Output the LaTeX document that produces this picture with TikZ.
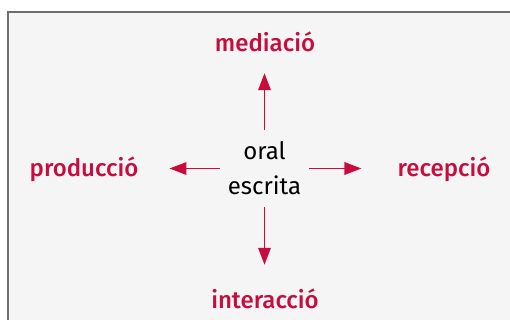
\documentclass[tikz,border=0pt]{standalone}
\usepackage{fontspec}
\setmainfont{Fira Sans}
\newfontfamily\medfont{Fira Sans Medium}
\usetikzlibrary{arrows.meta}

\definecolor{crimson}{RGB}{200,12,62}
\definecolor{paper}{RGB}{245,245,245}
\definecolor{frame}{RGB}{110,110,110}

\tikzset{
	skill/.style={text=crimson, font=\fontsize{24}{24}\selectfont\medfont, inner sep=0pt, text height=18pt, text depth=5pt, anchor=base},
	mode/.style={font=\fontsize{24}{35}\selectfont, align=center, inner sep=0pt, minimum width=89pt, minimum height=77pt},
	link/.style={draw=crimson, line width=1.8pt, -{Triangle[length=17pt,width=12.5pt]}}
}

\begin{document}
\begin{tikzpicture}[x=1pt, y=-1pt]

	\useasboundingbox[fill=white] (0, 0) rectangle (510, 320);
	\fill[paper] (8, 12) rectangle (510, 320);
	\draw[frame, line width=1.5pt] (8, 320) -- (8, 12) -- (510, 12);

	\node[mode] (c) at (264.5, 168.5) {oral\\escrita};

	\node[skill] (m) at (265, 52)     {mediació};
	\node[skill] (p) at (84, 177)     {producció};
	\node[skill] (r) at (444, 177)    {recepció};
	\node[skill] (i) at (265, 308)    {interacció};

	\path (c.north) edge[link, shorten >=16pt] (m.south -| c.north);
	\path (c.south) edge[link, shorten >=25pt] (i.north -| c.south);
	\path (c.west) edge[link, shorten >=31pt] (p.east |- c.west);
	\path (c.east) edge[link, shorten >=36pt] (r.west |- c.east);

\end{tikzpicture}
\end{document}
